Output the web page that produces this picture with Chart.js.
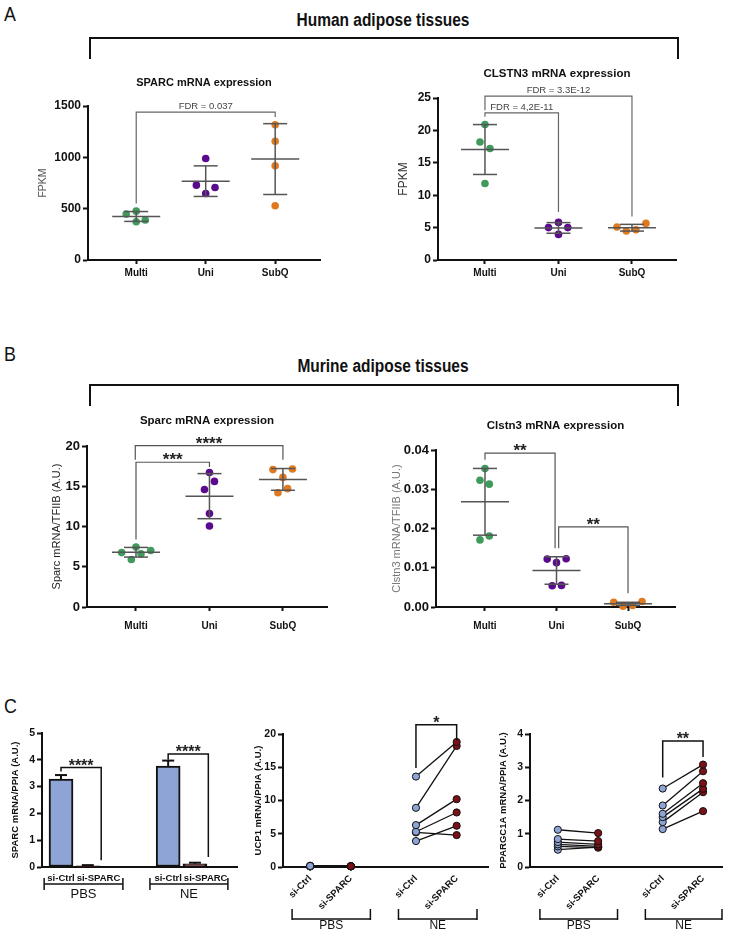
<!DOCTYPE html>
<html><head><meta charset="utf-8">
<script src="https://cdn.jsdelivr.net/npm/chart.js@4.4.1/dist/chart.umd.min.js"></script>
<style>
html,body{margin:0;padding:0;background:#fff}
body{width:733px;height:931px;position:relative;overflow:hidden;font-family:"Liberation Sans",Arial,sans-serif}
canvas{position:absolute;left:0;top:0}
.letter{position:absolute;font-family:"Liberation Sans",sans-serif;font-size:21px;color:#111;line-height:1;transform:scaleX(0.85);transform-origin:left top}
.hdr{position:absolute;left:89px;width:588px;text-align:center;font-family:"Liberation Sans",sans-serif;font-weight:bold;font-size:18px;color:#111;line-height:1;transform:scaleX(0.86);transform-origin:center top}
.brk{position:absolute;left:89px;width:586px;height:20px;border:2px solid #111;border-bottom:none}
</style></head><body>
<div class="letter" style="left:4px;top:3px">A</div>
<div class="hdr" style="top:11px">Human adipose tissues</div>
<div class="brk" style="top:37px"></div>
<div class="letter" style="left:4px;top:343px">B</div>
<div class="hdr" style="top:357px">Murine adipose tissues</div>
<div class="brk" style="top:384px"></div>
<div class="letter" style="left:4px;top:695px">C</div>
<script>
// ================= DATA =================
const groupNames = ['Multi', 'Uni', 'SubQ'];

// A - human adipose tissues (FPKM)
const hSparcMulti = [447, 476, 373, 389];
const hSparcUni   = [988, 729, 648, 706];
const hSparcSubQ  = [1318, 1156, 917, 528];
const hSparcMean  = [424, 768, 983];
const hSparcSD    = [48, 149, 345];
const hSparcTicks = [0, 500, 1000, 1500];

const hClstnMulti = [20.9, 18.2, 17.2, 11.8];
const hClstnUni   = [5.0, 5.8, 5.0, 3.95];
const hClstnSubQ  = [5.1, 4.47, 4.67, 5.65];
const hClstnMean  = [17.05, 4.95, 4.98];
const hClstnSD    = [3.85, 0.82, 0.52];
const hClstnTicks = [0, 5, 10, 15, 20, 25];

// B - murine adipose tissues (A.U.)
const mSparcMulti = [6.76, 7.46, 7.01, 6.6, 5.9];
const mSparcUni   = [16.7, 15.6, 14.6, 11.6, 10.06];
const mSparcSubQ  = [17.07, 17.15, 16.1, 14.7, 14.2];
const mSparcMean  = [6.8, 13.77, 15.85];
const mSparcSD    = [0.6, 2.8, 1.35];
const mSparcTicks = [0, 5, 10, 15, 20];

const mClstnMulti = [0.0353, 0.0323, 0.0313, 0.0181, 0.0171];
const mClstnUni   = [0.0122, 0.0123, 0.0113, 0.0054, 0.0055];
const mClstnSubQ  = [0.0012, 0.0002, 0.0004, 0.0014];
const mClstnMean  = [0.0268, 0.0093, 0.0008];
const mClstnSD    = [0.0085, 0.0035, 0.0004];
const mClstnTicks = [0, 0.01, 0.02, 0.03, 0.04];

// C - knockdown experiments
const kdLabels   = ['si-Ctrl', 'si-SPARC', 'si-Ctrl', 'si-SPARC'];
const conditions = ['PBS', 'NE'];
const sparcKD    = [3.28, 0.04, 3.77, 0.12];
const sparcKDsem = [0.15, 0.03, 0.20, 0.04];
const sparcKDTicks = [0, 1, 2, 3, 4, 5];

const ucp1PbsCtrl = [0.15, 0.10, 0.12, 0.08, 0.20, 0.10];
const ucp1PbsSi   = [0.10, 0.08, 0.10, 0.12, 0.15, 0.10];
const ucp1NeCtrl  = [13.6, 8.9, 6.3, 5.3, 5.2, 3.9];
const ucp1NeSi    = [18.8, 18.2, 10.2, 8.2, 4.8, 6.2];
const ucp1Ticks   = [0, 5, 10, 15, 20];

const pgcPbsCtrl = [1.12, 0.84, 0.75, 0.68, 0.62, 0.52];
const pgcPbsSi   = [1.02, 0.78, 0.68, 0.62, 0.58, 0.60];
const pgcNeCtrl  = [2.36, 1.85, 1.60, 1.50, 1.35, 1.14];
const pgcNeSi    = [3.08, 2.88, 2.52, 2.35, 2.25, 1.68];
const pgcTicks   = [0, 1, 2, 3, 4];

// ================= LAYOUT / STYLE =================
const FONT = '"Liberation Sans", Arial, Helvetica, sans-serif';
const W = 733, H = 931;
const GREEN = '#3f9a5c', PURPLE = '#5a0a8c', ORANGE = '#e07a20';
const CBLUE = '#8ea3d6', CRED = '#7b1016';
const XH = 50;  // fixed height reserved for the x scale box

function newCanvas() {
  const c = document.createElement('canvas');
  c.width = W; c.height = H;
  c.style.width = W + 'px'; c.style.height = H + 'px';
  document.body.appendChild(c);
  return c;
}
function yW(a) { return Math.min(40, a.l - 2); }
function pad(a) { return {left: a.l - yW(a), top: a.t, right: W - a.r, bottom: H - a.b - XH}; }
function seg(ctx, x1, y1, x2, y2) { ctx.beginPath(); ctx.moveTo(x1, y1); ctx.lineTo(x2, y2); ctx.stroke(); }

function yCfg(area, ticks, size, fmt) {
  const w = yW(area);
  return {
    type: 'linear', min: ticks[0], max: ticks[ticks.length - 1],
    afterFit: s => { s.width = w; },
    afterBuildTicks: s => { s.ticks = ticks.map(v => ({value: v})); },
    border: {display: true, color: '#111', width: 2},
    grid: {display: true, drawOnChartArea: false, drawTicks: true, tickLength: 5, tickWidth: 2, tickColor: '#111'},
    ticks: {color: '#111', padding: 2, font: {family: FONT, size: size, weight: 'bold'},
            callback: fmt || (v => String(v))}
  };
}
function xCfg(min, max, vals, labels, o) {
  return {
    type: 'linear', min: min, max: max, offset: false,
    afterFit: s => { s.height = XH; },
    afterBuildTicks: s => { s.ticks = vals.map(v => ({value: v})); },
    border: {display: true, color: '#111', width: 2},
    grid: {display: true, offset: false, drawOnChartArea: false, drawTicks: o.drawTicks, tickLength: 4, tickWidth: 2, tickColor: '#111'},
    ticks: {autoSkip: false, minRotation: o.rot || 0, maxRotation: o.rot || 0, color: '#111', padding: o.padding,
            font: {family: FONT, size: o.size, weight: 'bold'}, callback: (v, i) => labels[i]}
  };
}

function annot(o) {
  return {
    id: 'annot',
    afterDatasetsDraw(chart) {
      const ctx = chart.ctx, xs = chart.scales.x, ys = chart.scales.y;
      ctx.save();
      if (o.mean) {
        ctx.strokeStyle = '#555'; ctx.lineWidth = 1.5;
        o.mean.forEach((m, i) => {
          const px = xs.getPixelForValue(i + 1);
          const pm = ys.getPixelForValue(m), hi = ys.getPixelForValue(m + o.sd[i]), lo = ys.getPixelForValue(m - o.sd[i]);
          seg(ctx, px - 24, pm, px + 24, pm);
          seg(ctx, px, hi, px, lo);
          seg(ctx, px - 12, hi, px + 12, hi);
          seg(ctx, px - 12, lo, px + 12, lo);
        });
      }
      if (o.barErr) {
        ctx.strokeStyle = '#111'; ctx.lineWidth = 2;
        o.barErr.vals.forEach((v, i) => {
          const px = xs.getPixelForValue(o.barErr.x[i]);
          const top = ys.getPixelForValue(v), et = ys.getPixelForValue(v + o.barErr.sem[i]);
          seg(ctx, px, top, px, et);
          seg(ctx, px - 6, et, px + 6, et);
        });
      }
      ctx.restore();
    },
    afterDraw(chart) {
      const ctx = chart.ctx, xs = chart.scales.x, ys = chart.scales.y, ca = chart.chartArea;
      ctx.save();
      if (o.title) {
        ctx.font = 'bold ' + o.titleSize + 'px ' + FONT; ctx.fillStyle = '#111';
        ctx.textAlign = 'center'; ctx.textBaseline = 'middle';
        ctx.fillText(o.title, (ca.left + ca.right) / 2, ca.top - o.titleGap);
      }
      if (o.yTitle) {
        ctx.save();
        ctx.translate(ca.left - o.yTitleGap, (ca.top + ca.bottom) / 2 + (o.yTitleShift || 0));
        ctx.rotate(-Math.PI / 2);
        ctx.font = o.yTitleFont; ctx.fillStyle = o.yTitleColor;
        ctx.textAlign = 'center'; ctx.textBaseline = 'middle';
        ctx.fillText(o.yTitle, 0, 0);
        ctx.restore();
      }
      (o.brackets || []).forEach(b => {
        const x1 = xs.getPixelForValue(b.x1), x2 = xs.getPixelForValue(b.x2);
        const y = ys.getPixelForValue(b.y), y1 = ys.getPixelForValue(b.y1), y2 = ys.getPixelForValue(b.y2);
        ctx.strokeStyle = o.bracketColor; ctx.lineWidth = o.bracketWidth || 1.2;
        ctx.beginPath(); ctx.moveTo(x1, y1); ctx.lineTo(x1, y); ctx.lineTo(x2, y); ctx.lineTo(x2, y2); ctx.stroke();
        ctx.textAlign = 'center'; ctx.textBaseline = 'alphabetic';
        if (o.star) {
          ctx.font = 'bold ' + o.starSize + 'px ' + FONT; ctx.fillStyle = '#222';
          ctx.fillText(b.text, (x1 + x2) / 2, y + o.starDy);
        } else {
          ctx.font = o.fdrSize + 'px ' + FONT; ctx.fillStyle = '#444';
          ctx.fillText(b.text, (x1 + x2) / 2, y - 3);
        }
      });
      if (o.groups) {
        const g = o.groups;
        ctx.strokeStyle = '#111'; ctx.lineWidth = 1.5; ctx.fillStyle = '#111';
        ctx.font = g.size + 'px ' + FONT; ctx.textAlign = 'center'; ctx.textBaseline = 'middle';
        g.items.forEach((it, i) => {
          const a = xs.getPixelForValue(it[0]), b = xs.getPixelForValue(it[1]);
          seg(ctx, a, g.y, b, g.y);
          seg(ctx, a, g.y + g.t1, a, g.y + g.t2);
          seg(ctx, b, g.y + g.t1, b, g.y + g.t2);
          ctx.fillText(conditions[i], (a + b) / 2, g.labelY);
        });
      }
      ctx.restore();
    }
  };
}

const baseOpts = (area) => ({
  responsive: false, animation: false, devicePixelRatio: 1, events: [],
  layout: {padding: pad(area)},
  plugins: {legend: {display: false}, tooltip: {enabled: false}, title: {display: false}}
});

// ---------- scatter (dot plot) panels ----------
function scatterPanel(p) {
  const colors = [GREEN, PURPLE, ORANGE];
  const datasets = p.groups.map((vals, gi) => ({
    type: 'scatter',
    data: vals.map((v, i) => ({x: gi + 1 + p.jitter[gi][i], y: v})),
    backgroundColor: colors[gi], borderColor: colors[gi], borderWidth: 0,
    pointRadius: 3.8, pointHoverRadius: 3.8, clip: false
  }));
  const opts = baseOpts(p.area);
  opts.scales = {
    x: xCfg(p.xMin, p.xMax, [1, 2, 3], groupNames, {drawTicks: true, size: 10, padding: p.xPad}),
    y: yCfg(p.area, p.ticks, p.tickSize, p.fmt)
  };
  new Chart(newCanvas(), {type: 'scatter', data: {datasets}, options: opts, plugins: [annot(p.annot)]});
}

// A left
scatterPanel({
  area: {l: 88, t: 106, r: 320, b: 260}, xMin: 0.306, xMax: 3.645, xPad: 3,
  groups: [hSparcMulti, hSparcUni, hSparcSubQ],
  jitter: [[-0.144, 0, 0, 0.13], [0, -0.134, 0, 0.134], [0, 0, 0, 0]],
  ticks: hSparcTicks, tickSize: 12,
  annot: {mean: hSparcMean, sd: hSparcSD, title: 'SPARC mRNA expression', titleSize: 11, titleGap: 23,
          yTitle: 'FPKM', yTitleGap: 45, yTitleFont: '10.5px ' + FONT, yTitleColor: '#555',
          bracketColor: '#666', fdrSize: 9.5,
          brackets: [{x1: 1, x2: 3, y: 1441, y1: 551, y2: 1393, text: 'FDR = 0.037'}]}
});
// A right
scatterPanel({
  area: {l: 438, t: 98, r: 676, b: 260}, xMin: 0.361, xMax: 3.599, xPad: 3,
  groups: [hClstnMulti, hClstnUni, hClstnSubQ],
  jitter: [[0, -0.068, 0.068, 0], [-0.136, 0, 0.127, 0], [-0.204, -0.077, 0.054, 0.19]],
  ticks: hClstnTicks, tickSize: 12,
  annot: {mean: hClstnMean, sd: hClstnSD, title: 'CLSTN3 mRNA expression', titleSize: 11.5, titleGap: 24,
          yTitle: 'FPKM', yTitleGap: 34, yTitleFont: '12px ' + FONT, yTitleColor: '#333',
          bracketColor: '#666', fdrSize: 9.5,
          brackets: [{x1: 1, x2: 2, y: 22.7, y1: 22.1, y2: 7.4, text: 'FDR = 4,2E-11'},
                     {x1: 1, x2: 3, y: 25.3, y1: 23.1, y2: 6.7, text: 'FDR = 3.3E-12'}]}
});
// B left
scatterPanel({
  area: {l: 87, t: 446, r: 327, b: 607}, xMin: 0.333, xMax: 3.6, xPad: 9,
  groups: [mSparcMulti, mSparcUni, mSparcSubQ],
  jitter: [[-0.195, 0, 0.2, 0.068, -0.063], [0, 0.068, -0.068, 0, 0], [-0.136, 0.13, 0, 0.063, -0.068]],
  ticks: mSparcTicks, tickSize: 13,
  annot: {mean: mSparcMean, sd: mSparcSD, title: 'Sparc mRNA expression', titleSize: 11.5, titleGap: 25,
          yTitle: 'Sparc mRNA/TFIIB (A.U.)', yTitleGap: 30, yTitleFont: '11px ' + FONT, yTitleColor: '#222',
          bracketColor: '#555', star: true, starSize: 17, starDy: 3,
          brackets: [{x1: 0.99, x2: 3, y: 20.04, y1: 18.3, y2: 18.3, text: '****'},
                     {x1: 1, x2: 2, y: 17.98, y1: 8.4, y2: 17.4, text: '***'}]}
});
// B right
scatterPanel({
  area: {l: 436, t: 450, r: 675, b: 607}, xMin: 0.315, xMax: 3.657, xPad: 9,
  groups: [mClstnMulti, mClstnUni, mClstnSubQ],
  jitter: [[0, -0.07, 0.06, 0.06, -0.07], [-0.13, 0.135, 0, -0.06, 0.07], [-0.2, -0.07, 0.065, 0.196]],
  ticks: mClstnTicks, tickSize: 13, fmt: v => v.toFixed(2),
  annot: {mean: mClstnMean, sd: mClstnSD, title: 'Clstn3 mRNA expression', titleSize: 11.5, titleGap: 24,
          yTitle: 'Clstn3 mRNA/TFIIB (A.U.)', yTitleGap: 39, yTitleFont: '11px ' + FONT, yTitleColor: '#777',
          bracketColor: '#555', star: true, starSize: 17, starDy: 3,
          brackets: [{x1: 1, x2: 1.98, y: 0.0392, y1: 0.0375, y2: 0.0150, text: '**'},
                     {x1: 2.03, x2: 3, y: 0.0204, y1: 0.0150, y2: 0.0035, text: '**'}]}
});

// ---------- C left: bar chart ----------
(function () {
  const area = {l: 42, t: 733, r: 237, b: 867};
  const barX = [0, 1, 4, 5];
  const labelX = [0, 1.4, 4, 5.4];
  const opts = baseOpts(area);
  opts.scales = {
    x: xCfg(-0.71, 6.57, labelX, kdLabels, {drawTicks: false, size: 9.5, padding: 6}),
    y: yCfg(area, sparcKDTicks, 10.5)
  };
  new Chart(newCanvas(), {
    type: 'bar',
    data: {datasets: [{
      data: sparcKD.map((v, i) => ({x: barX[i], y: v})),
      backgroundColor: [CBLUE, CRED, CBLUE, CRED], borderColor: '#111', borderWidth: 2,
      borderSkipped: false, barThickness: 24, clip: false
    }]},
    options: opts,
    plugins: [annot({
      barErr: {x: barX, vals: sparcKD, sem: sparcKDsem},
      yTitle: 'SPARC mRNA/PPIA (A.U.)', yTitleGap: 27, yTitleFont: 'bold 9.5px ' + FONT, yTitleColor: '#111',
      bracketColor: '#111', bracketWidth: 1.5, star: true, starSize: 16, starDy: 3,
      brackets: [{x1: 0, x2: 1.5, y: 3.71, y1: 3.56, y2: 0.25, text: '****'},
                 {x1: 4, x2: 5.5, y: 4.22, y1: 4.0, y2: 0.375, text: '****'}],
      groups: {y: 884, t1: -6, t2: 6, labelY: 894, size: 13, items: [[-0.63, 2.31], [3.32, 6.23]]}
    })]
  });
})();

// ---------- C paired panels ----------
function pairedPanel(p) {
  const xPos = [1, 2, 3.6, 4.6];
  const datasets = [];
  [[p.pbsCtrl, p.pbsSi], [p.neCtrl, p.neSi]].forEach((pair, c) => {
    pair[0].forEach((v, i) => {
      datasets.push({
        type: 'line',
        data: [{x: xPos[c * 2], y: v}, {x: xPos[c * 2 + 1], y: pair[1][i]}],
        borderColor: '#111', borderWidth: 1.3,
        pointBackgroundColor: [CBLUE, CRED], pointBorderColor: '#111', pointBorderWidth: 1,
        pointRadius: 3.6, pointHoverRadius: 3.6, clip: false, tension: 0
      });
    });
  });
  const opts = baseOpts(p.area);
  opts.scales = {
    x: xCfg(p.xMin, p.xMax, xPos, kdLabels, {drawTicks: false, size: 9.5, padding: 6, rot: 45}),
    y: yCfg(p.area, p.ticks, 10.5)
  };
  new Chart(newCanvas(), {type: 'line', data: {datasets}, options: opts, plugins: [annot(p.annot)]});
}

pairedPanel({
  area: {l: 283, t: 734, r: 488, b: 867}, xMin: 0.333, xMax: 5.37,
  pbsCtrl: ucp1PbsCtrl, pbsSi: ucp1PbsSi, neCtrl: ucp1NeCtrl, neSi: ucp1NeSi, ticks: ucp1Ticks,
  annot: {yTitle: 'UCP1 mRNA/PPIA (A.U.)', yTitleGap: 25, yTitleFont: 'bold 9.5px ' + FONT, yTitleColor: '#111',
          bracketColor: '#111', bracketWidth: 1.5, star: true, starSize: 16, starDy: 3,
          brackets: [{x1: 3.6, x2: 4.6, y: 21.4, y1: 14.9, y2: 19.05, text: '*'}],
          groups: {y: 919, t1: -10, t2: 1, labelY: 926, size: 12, items: [[0.556, 2.48], [3.17, 5.1]]}}
});
pairedPanel({
  area: {l: 530, t: 734, r: 722, b: 867}, xMin: 0.31, xMax: 5.07,
  pbsCtrl: pgcPbsCtrl, pbsSi: pgcPbsSi, neCtrl: pgcNeCtrl, neSi: pgcNeSi, ticks: pgcTicks,
  annot: {yTitle: 'PPARGC1A mRNA/PPIA (A.U.)', yTitleGap: 27, yTitleFont: 'bold 9.5px ' + FONT, yTitleColor: '#111',
          bracketColor: '#111', bracketWidth: 1.5, star: true, starSize: 16, starDy: 3,
          brackets: [{x1: 3.6, x2: 4.6, y: 3.79, y1: 2.69, y2: 3.31, text: '**'}],
          groups: {y: 919, t1: -10, t2: 1, labelY: 926, size: 12, items: [[0.556, 2.48], [3.17, 5.07]]}}
});
</script>
</body></html>
